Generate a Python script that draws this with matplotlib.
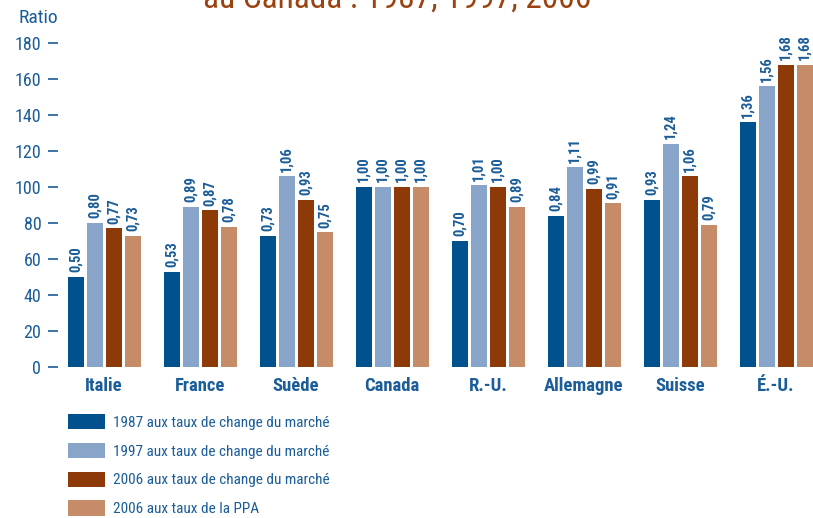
import matplotlib
matplotlib.use("Agg")
import matplotlib.pyplot as plt
import numpy as np
from matplotlib import font_manager

names = {f.name for f in font_manager.fontManager.ttflist}
FONT = ['Liberation Sans Narrow', 'Roboto Condensed', 'Liberation Sans', 'DejaVu Sans']
FONT = [f for f in FONT if f in names] + ['DejaVu Sans']
plt.rcParams['font.family'] = FONT

countries = ['Italie', 'France', 'Suède', 'Canada', 'R.-U.', 'Allemagne', 'Suisse', 'É.-U.']
v1987 = [0.50, 0.53, 0.73, 1.00, 0.70, 0.84, 0.93, 1.36]
v1997 = [0.80, 0.89, 1.06, 1.00, 1.01, 1.11, 1.24, 1.56]
v2006 = [0.77, 0.87, 0.93, 1.00, 1.00, 0.99, 1.06, 1.68]
v2006ppa = [0.73, 0.78, 0.75, 1.00, 0.89, 0.91, 0.79, 1.68]
series_labels = ['1987 aux taux de change du marché',
                 '1997 aux taux de change du marché',
                 '2006 aux taux de change du marché',
                 '2006 aux taux de la PPA']
colors = ['#00518e', '#88a5c9', '#8e3a08', '#c68b67']
yticks = [0, 20, 40, 60, 80, 100, 120, 140, 160, 180]

blue = '#1b5d98'

fig = plt.figure(figsize=(8.13, 5.18), dpi=100)
ax = fig.add_axes([58 / 813, (518 - 367) / 518, 755 / 813, 324 / 518])

x = np.arange(len(countries))
w = 16 / 96
pitch = 19 / 96
for k, vals in enumerate([v1987, v1997, v2006, v2006ppa]):
    pos = x + (k - 1.5) * pitch
    heights = np.array(vals) * 100
    ax.bar(pos, heights, width=w, color=colors[k], label=series_labels[k])
    for p, h, v in zip(pos, heights, vals):
        ax.text(p, h + 2.5, f'{v:.2f}'.replace('.', ','), rotation=90,
                ha='center', va='bottom', fontsize=10.5, fontweight='bold',
                color=blue, clip_on=False)

ax.set_xlim((60 - 104) / 96 - 2 / 96, (813 - 104) / 96)
ax.set_ylim(0, 180)
ax.set_yticks(yticks)
ax.set_xticks(x)
ax.set_xticklabels(countries, fontsize=13.4, fontweight='bold', color=blue)
for s in ax.spines.values():
    s.set_visible(False)
ax.tick_params(axis='y', direction='out', length=7, width=1.2, pad=5,
               colors=blue, labelsize=13)
ax.tick_params(axis='x', length=0, pad=7)

fig.text(18 / 813, 1 - 18 / 518, 'Ratio', fontsize=14, color=blue,
         ha='left', va='center')
fig.text(397 / 813, 1 - 8 / 518, 'au Canada : 1987, 1997, 2006', fontsize=24,
         color='#9b4210', ha='center', va='baseline')

fs = 11
fig.legend(loc='upper left', bbox_to_anchor=(62 / 813, 1 - 408 / 518),
           frameon=False, fontsize=fs, labelcolor=blue,
           handlelength=2.4, handleheight=1.15, labelspacing=0.85,
           handletextpad=0.55, borderaxespad=0)

fig.savefig('out.png', dpi=100)
